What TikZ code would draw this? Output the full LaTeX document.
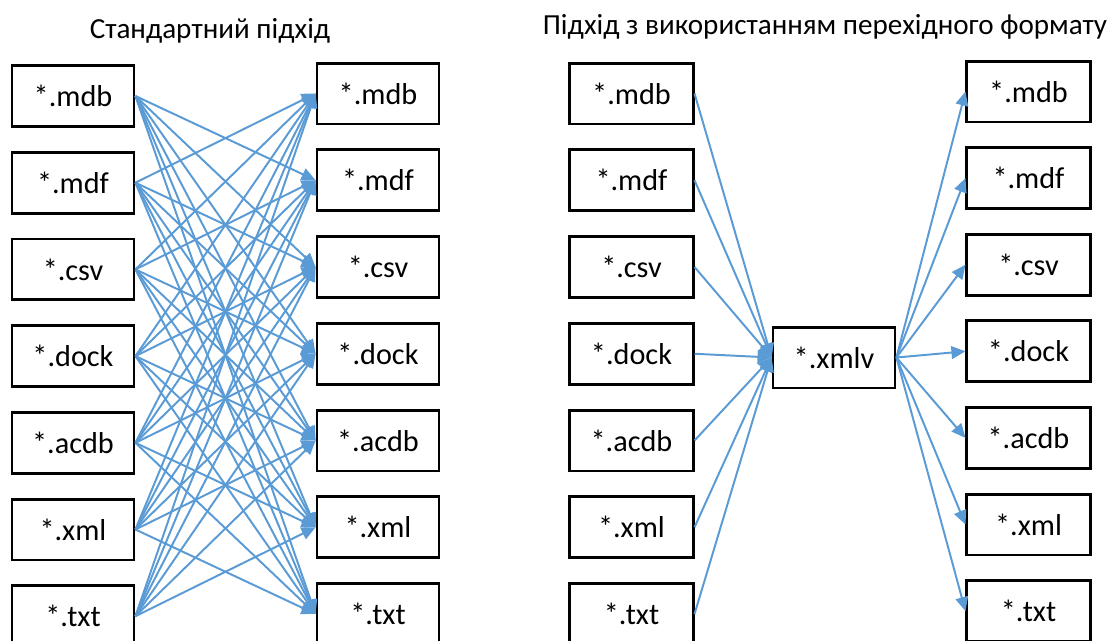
\documentclass[tikz,border=0pt]{standalone}
\usepackage{fontspec}
\setmainfont{Carlito}
\usetikzlibrary{arrows.meta}

\definecolor{linkblue}{RGB}{91,155,213}

\tikzset{
  fmt/.style={draw,line width=2pt,minimum width=3.05cm,minimum height=1.52cm,
    inner sep=0pt,font=\fontsize{21.5}{26}\selectfont},
  link/.style={draw=linkblue,line width=1.4pt,-{Triangle[length=10pt,width=9pt]}},
  heading/.style={anchor=base,font=\fontsize{20.7}{25}\selectfont}
}

\begin{document}
\begin{tikzpicture}[x=0.025cm,y=-0.025cm]
  \useasboundingbox (0,0) rectangle (1115,640);

  % titles
  \node[heading] (tstd) at (210,38) {Стандартний підхід};
  \node[heading] (tvia) at (825,34) {Підхід з використанням перехідного формату};

  % standard approach: every format to every other one
  \foreach \ext [count=\i] in {mdb,mdf,csv,dock,acdb,xml,txt} {
    \node[fmt] (sa\i) at (73,{96+86.7*(\i-1)}) {*.\ext};
    \node[fmt] (sb\i) at (378,{93.5+86.75*(\i-1)}) {*.\ext};
  }
  \foreach \i in {1,...,7}
    \foreach \j in {1,...,7} {
      \ifnum\i=\j\relax\else
        \draw[link] (sa\i.east) -- (sb\j.west);
      \fi
    }

  % approach through the exchange format
  \node[fmt] (hub) at (834,357.5) {*.xmlv};
  \foreach \ext [count=\i] in {mdb,mdf,csv,dock,acdb,xml,txt} {
    \node[fmt,minimum width=3.08cm] (ca\i) at (631.5,{93.5+86.75*(\i-1)}) {*.\ext};
    \node[fmt,minimum width=3.08cm] (cb\i) at (1028.5,{91.5+86.6*(\i-1)}) {*.\ext};
    \draw[link] (ca\i.east) -- (hub.west);
    \draw[link] (hub.east) -- (cb\i.west);
  }
\end{tikzpicture}
\end{document}
